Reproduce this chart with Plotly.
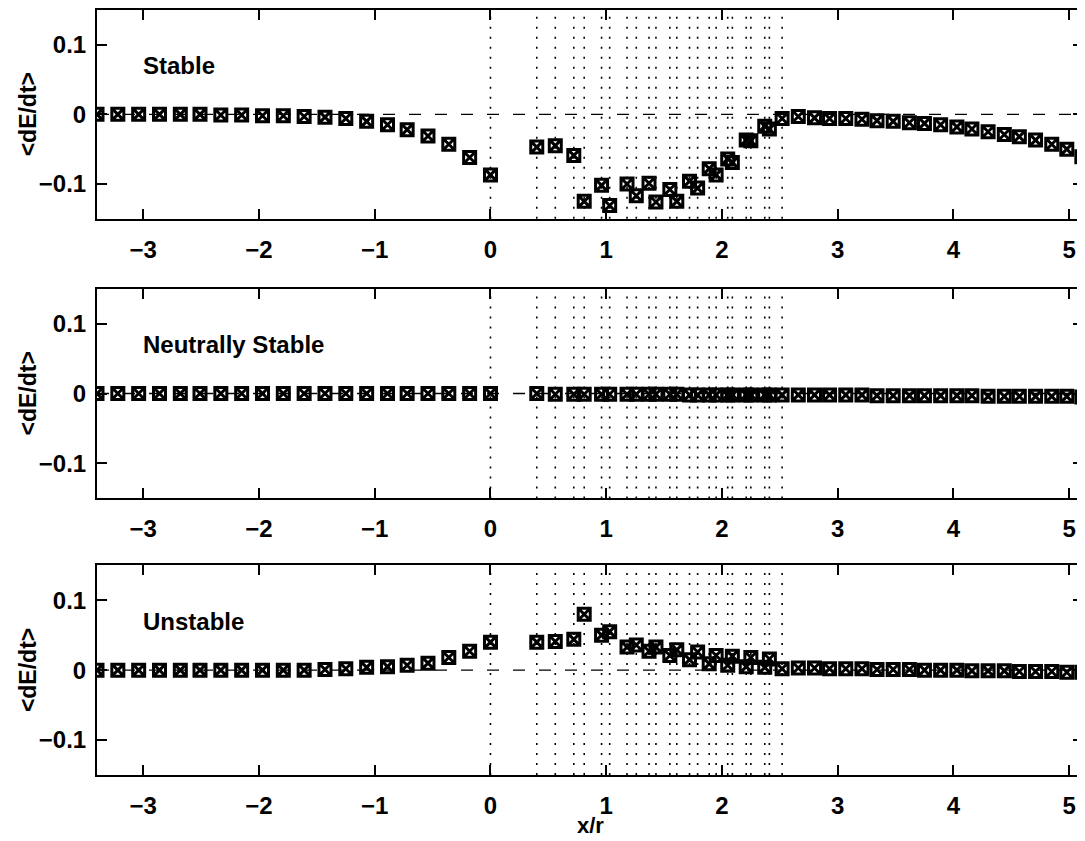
import plotly.graph_objects as go
from plotly.subplots import make_subplots

# ---- data ----
x_left = [-3.40, -3.22, -3.04, -2.86, -2.68, -2.51, -2.33, -2.15, -1.97, -1.79,
          -1.61, -1.43, -1.25, -1.07, -0.89, -0.72, -0.54, -0.36, -0.18, 0.00]
x_mid = [0.40, 0.56, 0.72, 0.81, 0.96, 1.03, 1.18, 1.26, 1.37, 1.43, 1.55, 1.61,
         1.72, 1.79, 1.89, 1.95, 2.05, 2.09, 2.21, 2.25, 2.37, 2.41, 2.52]
x_right = [2.66, 2.80, 2.93, 3.07, 3.21, 3.34, 3.48, 3.62, 3.75, 3.89, 4.03, 4.16,
           4.30, 4.44, 4.57, 4.71, 4.85, 4.98, 5.11]

stable_left = [0, 0, 0, 0, 0, 0, -0.001, -0.001, -0.002, -0.002, -0.003, -0.004,
               -0.006, -0.010, -0.015, -0.022, -0.031, -0.043, -0.062, -0.087]
stable_mid = [-0.047, -0.045, -0.059, -0.125, -0.102, -0.131, -0.100, -0.117, -0.099,
              -0.126, -0.108, -0.125, -0.096, -0.106, -0.078, -0.087, -0.064, -0.069,
              -0.037, -0.038, -0.017, -0.021, -0.006]
stable_right = [-0.003, -0.005, -0.006, -0.006, -0.007, -0.009, -0.010, -0.012, -0.013,
                -0.015, -0.018, -0.021, -0.025, -0.029, -0.032, -0.037, -0.043, -0.050,
                -0.061]

neutral_left = [0, 0, 0, 0, 0, 0, 0, 0, 0, 0, 0, 0, 0, 0, 0, 0, 0, 0, 0, 0]
neutral_mid = [0.000, -0.001, -0.001, -0.001, -0.001, -0.001, -0.001, -0.001, -0.001,
               -0.001, -0.001, -0.001, -0.002, -0.002, -0.002, -0.002, -0.002, -0.002,
               -0.002, -0.002, -0.002, -0.002, -0.002]
neutral_right = [-0.002, -0.002, -0.002, -0.002, -0.002, -0.003, -0.003, -0.003, -0.003,
                 -0.003, -0.003, -0.003, -0.004, -0.004, -0.004, -0.004, -0.004, -0.004,
                 -0.005]

unstable_left = [0, 0, 0, 0, 0, 0, 0, 0, 0, 0, 0, 0.001, 0.002, 0.004, 0.005, 0.007,
                 0.010, 0.018, 0.027, 0.040]
unstable_mid = [0.040, 0.041, 0.044, 0.080, 0.050, 0.055, 0.033, 0.036, 0.027, 0.033,
                0.021, 0.029, 0.015, 0.026, 0.009, 0.021, 0.007, 0.020, 0.005, 0.018,
                0.004, 0.016, 0.002]
unstable_right = [0.003, 0.003, 0.002, 0.002, 0.002, 0.001, 0.001, 0.001, 0.000, 0.000,
                  0.000, -0.001, -0.001, -0.001, -0.002, -0.002, -0.002, -0.003, -0.003]

panel_labels = ["Stable", "Neutrally Stable", "Unstable"]
x_ticks = [-3, -2, -1, 0, 1, 2, 3, 4, 5]
y_ticks = [-0.1, 0, 0.1]
y_ticktext = ["\u22120.1", "0", "0.1"]
dotted_x = [0.0] + x_mid

x_all = x_left + x_mid + x_right
series = [stable_left + stable_mid + stable_right,
          neutral_left + neutral_mid + neutral_right,
          unstable_left + unstable_mid + unstable_right]

FONT = "Liberation Sans, Arial, Helvetica, sans-serif"

fig = make_subplots(rows=3, cols=1)

# page has an 8px body margin; figure is sized so the plot areas land where the reference has them
domains = [[0.7262, 0.9987], [0.3611, 0.6349], [0.0, 0.2738]]

for i, ys in enumerate(series):
    r = i + 1
    fig.add_trace(go.Scatter(
        x=x_all, y=ys, mode="markers", showlegend=False,
        marker=dict(symbol="square-x-open", size=12, color="black",
                    line=dict(width=3, color="black")),
        cliponaxis=True,
    ), row=r, col=1)
    xa = "x" if r == 1 else f"x{r}"
    ya = "y" if r == 1 else f"y{r}"
    fig.add_shape(type="line", xref=f"{xa} domain", yref=ya, x0=0, x1=1, y0=0, y1=0,
                  line=dict(color="black", width=1.4, dash="12px,14px"), layer="below")
    for xv in dotted_x:
        fig.add_shape(type="line", xref=xa, yref=f"{ya} domain", x0=xv, x1=xv, y0=0, y1=1,
                      line=dict(color="black", width=1.6, dash="2px,8px"), layer="below")
    fig.add_annotation(xref=xa, yref=ya, x=-3.02, y=0.07, text=panel_labels[i],
                       showarrow=False, xanchor="left", yanchor="middle",
                       font=dict(family=FONT, size=24, color="black", weight="bold"))
    fig.update_xaxes(row=r, col=1, range=[-3.4, 5.12], tickvals=x_ticks,
                     ticks="inside", ticklen=10, tickwidth=1.5, tickcolor="black",
                     showline=True, linewidth=2, linecolor="black", mirror="ticks",
                     showgrid=False, zeroline=False, ticklabelstandoff=8,
                     tickfont=dict(family=FONT, size=24, color="black", weight="bold"))
    fig.update_yaxes(row=r, col=1, range=[-0.15, 0.15], tickvals=y_ticks,
                     ticktext=y_ticktext, domain=domains[i],
                     ticks="inside", ticklen=10, tickwidth=1.5, tickcolor="black",
                     showline=True, linewidth=2, linecolor="black", mirror="ticks",
                     showgrid=False, zeroline=False, ticklabelstandoff=4,
                     tickfont=dict(family=FONT, size=24, color="black", weight="bold"))
    yc = (domains[i][0] + domains[i][1]) / 2
    fig.add_annotation(xref="paper", yref="paper", x=-0.07, y=yc,
                       text="&lt;dE/dt&gt;", textangle=-90, showarrow=False,
                       xanchor="center", yanchor="middle",
                       font=dict(family=FONT, size=23, color="black", weight="bold"))

fig.add_annotation(xref="paper", yref="paper", x=0.5, y=-0.066, text="x/r",
                   showarrow=False, xanchor="center", yanchor="middle",
                   font=dict(family=FONT, size=22, color="black", weight="bold"))

fig.update_layout(width=1077, height=833,
                  margin=dict(l=89, r=0, t=0, b=66),
                  paper_bgcolor="white", plot_bgcolor="white",
                  font=dict(family=FONT, color="black"))

fig.write_html("out.html")
